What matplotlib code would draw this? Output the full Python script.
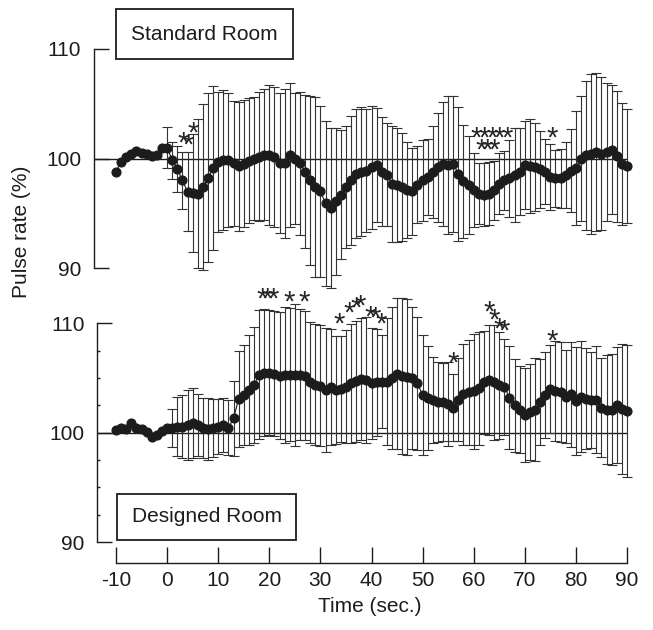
import numpy as np
import matplotlib
matplotlib.use('Agg')
import matplotlib.pyplot as plt
import matplotlib.transforms as mtransforms
from matplotlib.patches import Rectangle
from matplotlib.textpath import TextPath
from matplotlib.font_manager import FontProperties
from matplotlib.path import Path

plt.rcParams['font.family'] = ['Liberation Sans', 'DejaVu Sans']
plt.rcParams['axes.unicode_minus'] = False

# ---------------- data ----------------
time = np.arange(-10, 91)

std_mean = [98.8, 99.7, 100.15, 100.45, 100.65, 100.5, 100.4, 100.25, 100.35, 101.0,
            101.0, 99.85, 99.05, 98.0, 96.95, 96.85, 96.8, 97.4, 98.25, 99.1,
            99.7, 99.9, 99.85, 99.55, 99.3, 99.5, 99.8, 100.0, 100.15, 100.35,
            100.3, 100.15, 99.6, 99.55, 100.3, 100.0, 99.55, 98.8, 98.0, 97.4,
            97.0, 95.9, 95.45, 96.1, 96.7, 97.4, 98.0, 98.6, 98.8, 98.9,
            99.2, 99.4, 98.8, 98.5, 97.7, 97.6, 97.4, 97.1, 97.0, 97.6,
            98.0, 98.3, 98.8, 99.2, 99.5, 99.4, 99.5, 98.6, 97.9, 97.6,
            97.1, 96.8, 96.7, 96.8, 97.1, 97.7, 98.0, 98.2, 98.5, 98.8,
            99.4, 99.3, 99.2, 99.0, 98.8, 98.3, 98.2, 98.2, 98.5, 98.9,
            99.1, 100.0, 100.3, 100.45, 100.6, 100.45, 100.6, 100.8, 100.2, 99.5,
            99.3]
# SD for t = 0 .. 90
std_sd = [1.9, 1.7, 2.1, 2.6, 3.6, 5.4, 6.8, 7.6, 7.7, 7.5,
          6.4, 6.4, 6.1, 5.7, 5.9, 5.8, 5.7, 5.6, 5.9, 6.0,
          6.4, 6.4, 6.4, 6.8, 6.6, 6.0, 6.5, 7.0, 7.7, 8.2,
          7.8, 7.5, 7.3, 6.7, 5.9, 5.6, 5.9, 5.9, 5.9, 5.6,
          5.6, 5.2, 5.0, 4.7, 5.3, 5.2, 4.9, 4.4, 4.0, 3.5,
          3.7, 3.5, 4.2, 5.0, 5.7, 6.3, 6.2, 6.1, 5.2, 4.5,
          3.4, 2.8, 2.9, 2.9, 2.7, 2.8, 2.7, 3.5, 4.3, 4.0,
          4.0, 4.3, 4.0, 3.5, 3.0, 3.0, 2.6, 2.7, 3.0, 3.8,
          5.2, 5.7, 6.8, 7.3, 7.2, 7.0, 6.3, 5.9, 6.0, 5.6,
          5.2]

des_mean = [100.25, 100.45, 100.35, 100.85, 100.45, 100.35, 100.1, 99.65, 99.8, 100.15,
            100.4, 100.45, 100.55, 100.55, 100.7, 100.85, 100.7, 100.4, 100.35, 100.4,
            100.55, 100.7, 100.45, 101.3, 103.1, 103.45, 103.9, 104.35, 105.3, 105.5,
            105.5, 105.4, 105.2, 105.3, 105.3, 105.3, 105.3, 105.2, 104.6, 104.4,
            104.3, 103.9, 104.2, 103.9, 104.0, 104.2, 104.5, 104.7, 104.9, 104.8,
            104.5, 104.6, 104.65, 104.65, 105.0, 105.4, 105.2, 105.1, 105.0, 104.5,
            103.45, 103.2, 103.0, 102.8, 102.8, 102.6, 102.3, 103.0, 103.5, 103.7,
            103.8, 104.05, 104.6, 104.8, 104.6, 104.35, 104.2, 103.2, 102.5, 102.1,
            101.6, 101.9, 102.1, 102.8, 103.45, 104.0, 103.8, 103.7, 103.3, 103.5,
            102.9, 103.3, 103.1, 103.0, 103.0, 102.3, 102.1, 102.1, 102.5, 102.2,
            102.0]
# SD for t = 1 .. 90
des_sd = [1.75, 2.7, 2.9, 3.2, 3.2, 2.85, 2.75, 2.8, 2.65, 2.5,
          2.5, 2.5, 3.4, 4.4, 4.6, 5.0, 5.3, 5.9, 5.8, 5.7,
          5.7, 5.8, 6.2, 6.1, 6.5, 6.0, 5.9, 5.55, 5.55, 5.5,
          5.7, 5.3, 4.95, 4.85, 5.15, 5.45, 5.55, 5.55, 5.75, 5.1,
          4.9, 4.25, 5.8, 6.45, 6.9, 7.15, 7.15, 6.45, 6.05, 5.5,
          4.75, 3.95, 3.65, 3.6, 3.85, 3.1, 3.8, 4.6, 4.8, 5.25,
          5.15, 4.7, 5.05, 5.25, 4.9, 4.4, 4.7, 4.25, 4.0, 4.3,
          4.35, 4.7, 3.9, 3.9, 4.05, 4.55, 4.55, 4.25, 4.8, 4.9,
          5.1, 4.6, 4.4, 4.9, 4.5, 5.0, 5.05, 5.3, 5.95, 6.05]

std_star_t = [3.1, 4.1, 5.1, 60.5, 62.1, 63.7, 65.0, 66.6, 61.4, 62.7, 64.0, 75.4]
std_star_v = [102.0, 101.85, 102.9, 102.45, 102.45, 102.45, 102.45, 102.45,
              101.4, 101.4, 101.4, 102.45]
des_star_t = [18.6, 19.6, 20.8, 23.8, 26.9, 33.75, 35.7, 37.0, 37.85, 39.8, 40.7, 41.9,
              55.9, 63.0, 64.0, 64.9, 66.0, 75.3]
des_star_v = [112.85, 112.85, 112.85, 112.5, 112.5, 110.5, 111.55, 112.0, 112.15,
              111.2, 111.1, 110.5, 107.0, 111.6, 110.85, 110.1, 109.9, 108.95]

yticks_major = [90, 100, 110]
yticks_minor = [92.5, 95, 97.5, 102.5, 105, 107.5]
xticks = [-10, 0, 10, 20, 30, 40, 50, 60, 70, 80, 90]

# ---------------- layout helpers (pixels) ----------------
W, H = 653, 630
fig = plt.figure(figsize=(W / 100, H / 100), dpi=100)

PX0, PXS = 116.0, 5.11          # x pixel of t=-10, px per second


def t_of(px):
    return -10 + (px - PX0) / PXS


AX_L, AX_R = 60, 645
xlim = (t_of(AX_L), t_of(AX_R))


def v_top(py):
    return 100 - (py - 158.5) / 10.95


def v_bot(py):
    return 100 - (py - 432.7) / 10.94


ax1 = fig.add_axes([AX_L / W, 1 - 300 / H, (AX_R - AX_L) / W, 300 / H])
ax1.set_ylim(v_top(300), v_top(0))
ax2 = fig.add_axes([AX_L / W, 1 - 552 / H, (AX_R - AX_L) / W, (552 - 285) / H])
ax2.set_ylim(v_bot(552), v_bot(285))

ink = '#1c1c1c'
bar_col = '#333333'

# vertical centre of the asterisk ink, in ems above the baseline
_fp = FontProperties(family='Liberation Sans')
_tp = TextPath((0, 0), '*', size=1, prop=_fp)
_codes = np.asarray(_tp.codes)
_vv = np.asarray(_tp.vertices)[_codes != Path.CLOSEPOLY]
star_cy = (_vv[:, 1].min() + _vv[:, 1].max()) / 2
star_cx = (_vv[:, 0].min() + _vv[:, 0].max()) / 2
star_w = _vv[:, 0].max() - _vv[:, 0].min()
FS_STAR = 21

for ax, mean, sd, sd_start, spine_px, stars_t, stars_v in [
        (ax1, std_mean, std_sd, 0, 93.5, std_star_t, std_star_v),
        (ax2, des_mean, des_sd, 1, 97.0, des_star_t, des_star_v)]:
    ax.set_xlim(*xlim)
    ax.patch.set_alpha(0)
    for s in ['top', 'right']:
        ax.spines[s].set_visible(False)
    ax.spines['left'].set_position(('data', t_of(spine_px)))
    ax.spines['left'].set_bounds(90, 110)
    ax.spines['left'].set_linewidth(1.0)
    ax.spines['left'].set_color(ink)
    ax.set_yticks(yticks_major)
    ax.tick_params(axis='y', direction='in', length=11, width=1.0, pad=9,
                   labelsize=15, colors=ink)
    ax.hlines(100, t_of(spine_px), 90, color=ink, lw=1.0, zorder=2)

    mean = np.asarray(mean)
    tt = time[time >= sd_start]
    mm = mean[time >= sd_start]
    ax.errorbar(tt, mm, yerr=sd, fmt='none', ecolor=bar_col, elinewidth=0.8,
                capsize=3.6, capthick=0.8, zorder=3, clip_on=False)
    ax.plot(time, mean, '-', color=ink, lw=0.8, zorder=4, clip_on=False)
    ax.plot(time, mean, 'o', color=ink, ms=6.3, mec=ink, zorder=5, clip_on=False)

    tr = mtransforms.offset_copy(ax.transData, fig=fig,
                                 x=-(star_cx - star_w / 2) * FS_STAR * 0,
                                 y=-star_cy * FS_STAR, units='points')
    for st, sv in zip(stars_t, stars_v):
        ax.text(st, sv, '*', fontsize=FS_STAR, ha='center', va='baseline',
                color='#262626', transform=tr, zorder=6)

ax1.spines['bottom'].set_visible(False)
ax1.set_xticks([])

ax2.yaxis.set_minor_locator(matplotlib.ticker.FixedLocator(yticks_minor))
ax2.tick_params(axis='y', which='minor', direction='in', length=2.2, width=1.0, colors=ink)
ax2.spines['bottom'].set_position(('outward', 11 * 0.72))
ax2.spines['bottom'].set_bounds(-10, 90)
ax2.spines['bottom'].set_linewidth(1.0)
ax2.spines['bottom'].set_color(ink)
ax2.set_xticks(xticks)
ax2.tick_params(axis='x', direction='in', length=11.5, width=1.0, pad=6,
                labelsize=15, colors=ink)

# axis titles
fig.text(22 / W, 1 - 232 / H, 'Pulse rate (%)', rotation=90, ha='center', va='center',
         fontsize=15, color=ink)
fig.text(370 / W, 1 - 606 / H, 'Time (sec.)', ha='center', va='center',
         fontsize=15, color=ink)

# room boxes
for (x0, y0, x1, y1, label) in [(116, 9, 293, 59, 'Standard Room'),
                                (117, 494, 296, 540, 'Designed Room')]:
    fig.patches.append(Rectangle((x0 / W, 1 - y1 / H), (x1 - x0) / W, (y1 - y0) / H,
                                 transform=fig.transFigure, fill=False,
                                 lw=1.3, edgecolor=ink))
    fig.text((x0 + x1) / 2 / W, 1 - (y0 + y1) / 2 / H, label, ha='center',
             va='center', fontsize=15, color=ink)

fig.savefig('out.png', dpi=100, facecolor='white')
